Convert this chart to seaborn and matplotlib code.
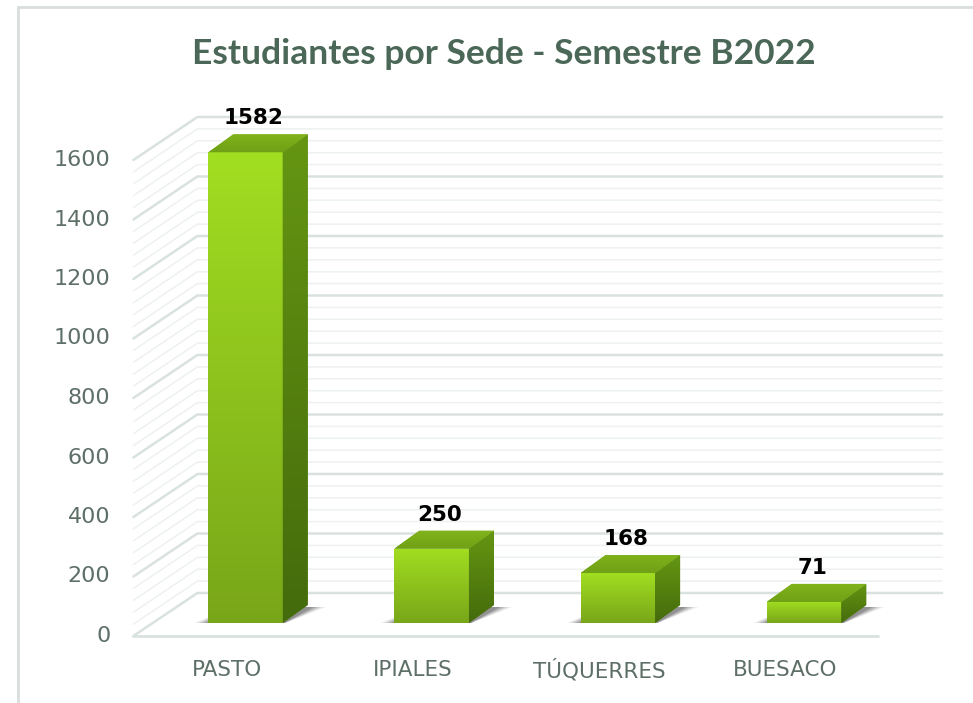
import numpy as np
import pandas as pd
import seaborn as sns
import matplotlib.pyplot as plt
from matplotlib.patches import Polygon, Rectangle
from matplotlib.colors import LinearSegmentedColormap

sedes = ["PASTO", "IPIALES", "TÚQUERRES", "BUESACO"]
estudiantes = [1582, 250, 168, 71]
y_ticks = list(range(0, 1601, 200))
titulo = "Estudiantes por Sede - Semestre B2022"

sns.set_style("white")
plt.rcParams["font.family"] = ["DejaVu Sans"]

W, H = 973, 703
YMAX = 1800
fig = plt.figure(figsize=(W / 100, H / 100), dpi=100)
ax_w, ax_h = 744.8, YMAX * 476 / 1600
ax = fig.add_axes([152.4 / W, (H - 623) / H, ax_w / W, ax_h / H])

df = pd.DataFrame({"sede": sedes, "n": estudiantes})
sns.barplot(data=df, x="sede", y="n", width=0.4, color="#8cc21c", ax=ax,
            zorder=5, linewidth=0)
bars = list(ax.patches)
ax.set_xlim(-0.5, 3.5)
ax.set_ylim(0, YMAX)
ax.axis("off")

# pixel -> data helpers
ux = ax_w / 4
uy = ax_h / YMAX
def sx(p):
    return p / ux
def sy(p):
    return p / uy

# front plane / back wall offsets (pixels) from the bar plane
FX, FY = -19, -13
BX, BY = 45, 30
DX, DY = 25, 18

# walls + gridlines
xl_f = -0.5 + sx(FX)
xl_b = -0.5 + sx(BX)
xr_b = 3.5 + sx(BX)
for v in range(0, 1601, 40):
    major = v % 200 == 0
    col = "#d9e2de" if major else "#edf1f0"
    lw = 1.8 if major else 1.1
    yf = v + sy(FY)
    yb = v + sy(BY)
    ax.plot([xl_f, xl_b, xr_b], [yf, yb, yb], color=col, lw=lw, zorder=1,
            clip_on=False)
ax.plot([xl_f, 3.5 + sx(FX)], [sy(FY), sy(FY)], color="#d9e2de", lw=2,
        zorder=2, clip_on=False)

grad = np.linspace(0, 1, 256).reshape(-1, 1)
cm_front = LinearSegmentedColormap.from_list("f", ["#78a619", "#a2de21"])
cm_side = LinearSegmentedColormap.from_list("s", ["#446b0c", "#659612"])
cm_top = LinearSegmentedColormap.from_list("t", ["#70a015", "#80b31b"])

for p, val in zip(bars, estudiantes):
    x0 = p.get_x()
    w = p.get_width()
    x1 = x0 + w
    h = p.get_height()
    dx, dy = sx(DX), sy(DY)

    # soft shadow on the floor
    for k, a in enumerate([0.12, 0.18, 0.28, 0.35]):
        e = 12 - 4 * k
        sh = Polygon([[x0 - sx(4 + e), -sy(1)], [x1, -sy(1)],
                      [x1 + dx + sx(6 + e), dy - sy(2)], [x0 + dx, dy - sy(2)]],
                     closed=True, facecolor="#5a5a5a", edgecolor="none",
                     alpha=a, zorder=4)
        ax.add_patch(sh)

    # front face gradient
    im = ax.imshow(grad, extent=[x0, x1, 0, h], aspect="auto", cmap=cm_front,
                   origin="lower", zorder=6)
    im.set_clip_path(p)

    # side face
    side = Polygon([[x1, 0], [x1 + dx, dy], [x1 + dx, h + dy], [x1, h]],
                   closed=True, facecolor="#55800f", edgecolor="none", zorder=6)
    ax.add_patch(side)
    ims = ax.imshow(grad, extent=[x1, x1 + dx, 0, h + dy], aspect="auto",
                    cmap=cm_side, origin="lower", zorder=7)
    ims.set_clip_path(side)

    # top face
    top = Polygon([[x0, h], [x1, h], [x1 + dx, h + dy], [x0 + dx, h + dy]],
                  closed=True, facecolor="#77a918", edgecolor="none", zorder=8)
    ax.add_patch(top)
    imt = ax.imshow(grad, extent=[x0, x1 + dx, h, h + dy], aspect="auto",
                    cmap=cm_top, origin="lower", zorder=9)
    imt.set_clip_path(top)

    ax.text(x0 + w / 2 + sx(8), h + dy + sy(6), f"{val}", ha="center",
            va="bottom", fontsize=15.5, fontweight="bold", color="black",
            zorder=10)

ax.set_xlim(-0.5, 3.5)
ax.set_ylim(0, YMAX)

# y tick labels on the front plane
for v in y_ticks:
    ax.text(xl_f - sx(23), v + sy(FY), str(v), ha="right", va="center",
            fontsize=16, color="#5e6f67", clip_on=False)

# category labels
for i, name in enumerate(sedes):
    ax.text(i + sx(FX), sy(FY) - sy(34), name, ha="center", va="center",
            fontsize=15.5, color="#5e6f67", clip_on=False)

fig.text(504 / W, 1 - 54 / H, titulo, ha="center", va="center",
         fontsize=25.5, fontweight="bold", color="#4b6757",
         family=["Lato", "DejaVu Sans"])

fig.patches.append(Rectangle((18 / W, -0.2), 2, (H - 7) / H + 0.2,
                             transform=fig.transFigure, fill=False,
                             edgecolor="#d8dedb", lw=2))

fig.savefig("out.png", dpi=100)
